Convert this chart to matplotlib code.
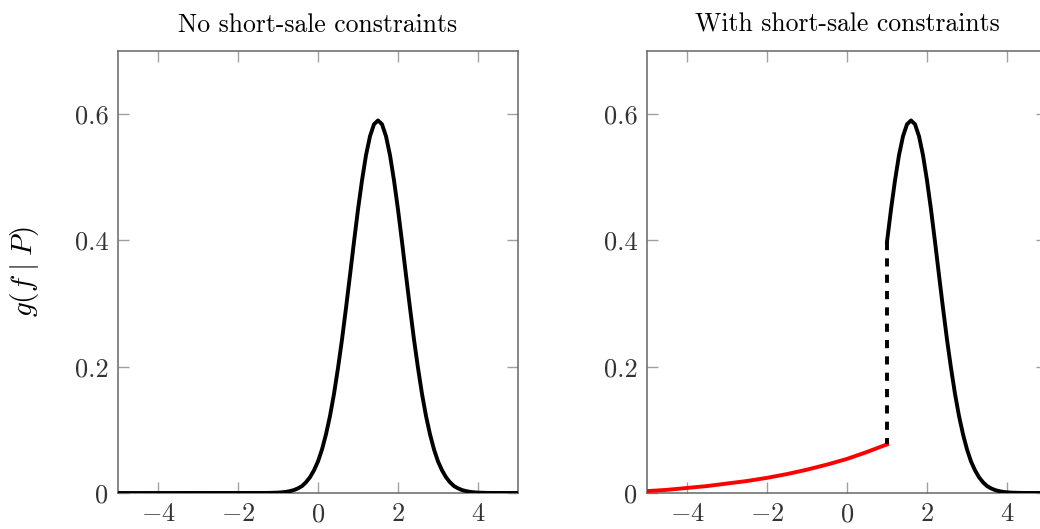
import numpy as np
import matplotlib
matplotlib.use("Agg")
import matplotlib.pyplot as plt

plt.rcParams['font.family'] = 'serif'
plt.rcParams['font.serif'] = ['cmr10', 'DejaVu Serif']
plt.rcParams['mathtext.fontset'] = 'cm'
plt.rcParams['axes.unicode_minus'] = False

# left panel: density without constraints
x_left = [-5.0, -1.3, -1.2, -1.1, -1.0, -0.9, -0.8, -0.7, -0.6, -0.5, -0.4, -0.3, -0.2, -0.1,
          0.0, 0.1, 0.2, 0.3, 0.4, 0.5, 0.6, 0.7, 0.8, 0.9, 1.0, 1.1, 1.2, 1.3, 1.4,
          1.5, 1.6, 1.7, 1.8, 1.9, 2.0, 2.1, 2.2, 2.3, 2.4, 2.5, 2.6, 2.7, 2.8, 2.9,
          3.0, 3.1, 3.2, 3.3, 3.4, 3.5, 3.6, 3.7, 3.8, 3.9, 4.0, 4.1, 4.2, 4.3, 5.0]
g_left = [0, 0.0001, 0.0002, 0.0004, 0.0006, 0.0011, 0.0018, 0.0030, 0.0047, 0.0074,
          0.011, 0.017, 0.025, 0.036, 0.050, 0.069, 0.093, 0.122, 0.157, 0.198,
          0.243, 0.293, 0.345, 0.398, 0.449, 0.495, 0.535, 0.565, 0.584,
          0.590,
          0.584, 0.565, 0.535, 0.495, 0.449, 0.398, 0.345, 0.293, 0.243, 0.198,
          0.157, 0.122, 0.093, 0.069, 0.050, 0.036, 0.025, 0.017, 0.011, 0.0074,
          0.0047, 0.0030, 0.0018, 0.0011, 0.0006, 0.0004, 0.0002, 0.0001, 0]

# right panel: truncated density (black) and lower tail (red)
x_right = [1.0, 1.1, 1.2, 1.3, 1.4, 1.5, 1.6, 1.7, 1.8, 1.9, 2.0, 2.1, 2.2, 2.3, 2.4,
           2.5, 2.6, 2.7, 2.8, 2.9, 3.0, 3.1, 3.2, 3.3, 3.4, 3.5, 3.6, 3.7, 3.8,
           3.9, 4.0, 4.1, 4.2, 4.3, 4.4, 5.0]
g_right = [0.398, 0.449, 0.495, 0.535, 0.565, 0.584, 0.590, 0.584, 0.565, 0.535,
           0.495, 0.449, 0.398, 0.345, 0.293, 0.243, 0.198, 0.157, 0.122, 0.093,
           0.069, 0.050, 0.036, 0.025, 0.017, 0.011, 0.0074, 0.0047, 0.0030,
           0.0018, 0.0011, 0.0006, 0.0004, 0.0002, 0.0001, 0]
x_red = [-5, -4.5, -4, -3.5, -3, -2.5, -2, -1.5, -1, -0.5, 0, 0.5, 1]
g_red = [0.003, 0.005, 0.008, 0.011, 0.015, 0.019, 0.024, 0.030, 0.037, 0.045,
         0.054, 0.065, 0.077]
jump_x = 1.0
jump_lo = 0.077
jump_hi = 0.398

xticks = [-4, -2, 0, 2, 4]
xticklabels = ['$-4$', '$-2$', '$0$', '$2$', '$4$']
yticks = [0, 0.2, 0.4, 0.6]
yticklabels = ['0', '0.2', '0.4', '0.6']
titles = ['No short-sale constraints', 'With short-sale constraints']

W, H = 1040, 529
fig = plt.figure(figsize=(W / 100, H / 100), dpi=100)
ax1 = fig.add_axes([118 / W, 36 / H, 400 / W, 442 / H])
ax2 = fig.add_axes([647 / W, 36 / H, 400 / W, 442 / H])

lw = 2.8
ax1.plot(x_left, g_left, color='black', lw=lw, zorder=3)
ax2.plot(x_right, g_right, color='black', lw=lw, zorder=3)
ax2.plot(x_red, g_red, color='red', lw=lw, zorder=3)
ax2.plot([jump_x, jump_x], [jump_hi, jump_lo], color='black', lw=lw,
         linestyle=(0, (2.1, 2.1)), zorder=3)

for a, t in zip([ax1, ax2], titles):
    a.set_xlim(-5, 5)
    a.set_ylim(0, 0.7)
    a.set_xticks(xticks)
    a.set_xticklabels(xticklabels)
    a.set_yticks(yticks)
    a.set_yticklabels(yticklabels)
    a.tick_params(direction='in', length=8, width=1, color='#a0a0a0',
                  top=True, right=True, labelsize=19, labelcolor='#333333', pad=7)
    for s in a.spines.values():
        s.set_color('#666666')
        s.set_linewidth(1.1)
    a.set_title(t, fontsize=18.5, pad=14)

ax1.set_ylabel(r'$g(f\;|\;P)$', fontsize=21, labelpad=24)

plt.savefig('out.png', dpi=100)
